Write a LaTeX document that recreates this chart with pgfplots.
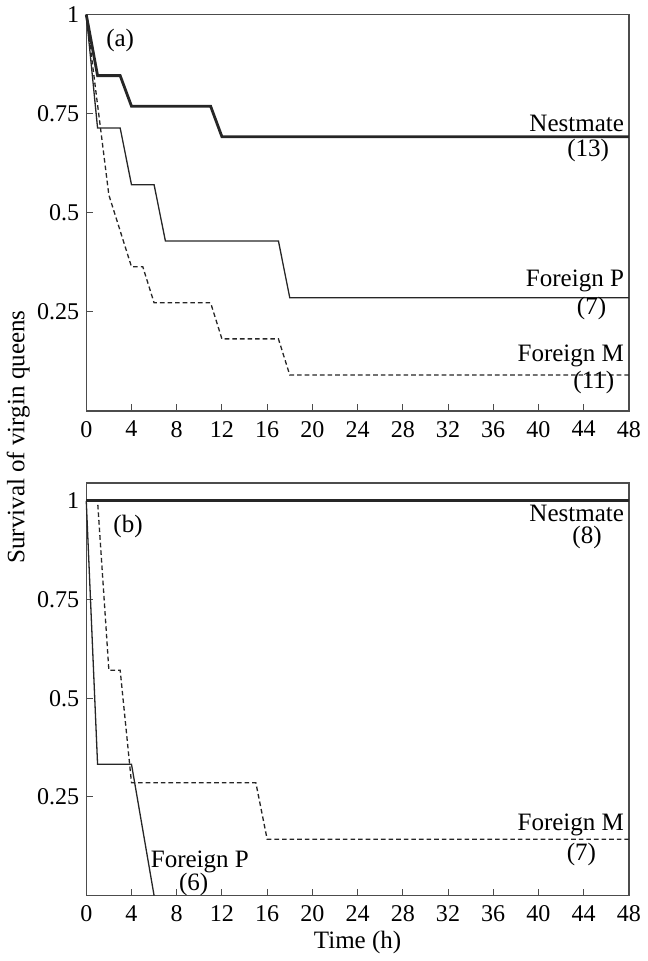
\documentclass[border=0pt]{standalone}
\usepackage{fontspec}
\setmainfont{Liberation Serif}
\usepackage{pgfplots}
\pgfplotsset{compat=1.18}

\newcommand{\labfont}{\fontsize{12.5}{14}\selectfont}
\tikzset{lab/.style={font=\labfont}}

\pgfplotsset{
  surv/.style={
    scale only axis,
    width=271pt,
    xmin=0, xmax=48,
    xtick={0,4,...,48},
    ytick={0.25,0.5,0.75,1},
    yticklabels={0.25,0.5,0.75,1},
    tick align=inside,
    tick pos=left,
    major tick length=3.5pt,
    axis line style={draw=black!70, line width=0.7pt},
    tick style={draw=black!70, line width=0.5pt},
    /pgf/number format/assume math mode=true,
    tick label style={font=\fontsize{12}{14}\selectfont},
    x tick label style={yshift=-1.5pt},
    label style={font=\labfont},
    clip=false,
  },
  nest/.style={draw=black!85, line width=1.4pt, mark=none},
  forp/.style={draw=black!85, line width=0.65pt, mark=none},
  form/.style={draw=black!85, line width=0.65pt, dash pattern=on 2.3pt off 1.5pt, mark=none},
}

\begin{document}
\begin{tikzpicture}
% (a) top panel
\begin{axis}[surv, at={(0,242pt)}, anchor=south west, height=198pt, ymin=0, ymax=1]
\addplot[nest] coordinates {
  (0,1) (1,0.846) (3,0.846) (4,0.769) (11,0.769) (12,0.692) (48,0.692)
};
\addplot[forp] coordinates {
  (0,1) (1,0.714) (3,0.714) (4,0.571) (6,0.571) (7,0.429) (17,0.429) (18,0.286) (48,0.286)
};
\addplot[form] coordinates {
  (0,1) (2,0.545) (4,0.364) (5,0.364) (6,0.273) (11,0.273) (12,0.182) (17,0.182) (18,0.091) (48,0.091)
};
\node[lab] at (axis cs:3.0,0.935) {(a)};
\node[lab, anchor=base east, inner sep=0pt] at (axis cs:47.6,0.705) {Nestmate};
\node[lab] at (axis cs:44.4,0.657) {(13)};
\node[lab, anchor=base east, inner sep=0pt] at (axis cs:47.6,0.315) {Foreign P};
\node[lab] at (axis cs:44.7,0.259) {(7)};
\node[lab, anchor=base east, inner sep=0pt] at (axis cs:47.6,0.126) {Foreign M};
\node[lab] at (axis cs:44.9,0.072) {(11)};
\end{axis}

% (b) bottom panel
\begin{axis}[surv, at={(0,0)}, anchor=south west, height=206pt, ymin=0, ymax=1.045,
  xlabel={Time (h)}, xlabel style={yshift=2pt}]
\addplot[nest] coordinates {
  (0,1) (48,1)
};
\addplot[forp] coordinates {
  (0,1) (1,0.333) (4,0.333) (6,0)
};
\addplot[form] coordinates {
  (0,1) (1,1) (2,0.571) (3,0.571) (4,0.286) (15,0.286) (16,0.143) (48,0.143)
};
\node[lab] at (axis cs:3.7,0.935) {(b)};
\node[lab, anchor=base east, inner sep=0pt] at (axis cs:47.6,0.949) {Nestmate};
\node[lab] at (axis cs:44.3,0.908) {(8)};
\node[lab, anchor=base east, inner sep=0pt] at (axis cs:47.6,0.165) {Foreign M};
\node[lab] at (axis cs:43.8,0.104) {(7)};
\node[lab, anchor=base, inner sep=0pt] at (axis cs:10.05,0.071) {Foreign P};
\node[lab] at (axis cs:9.5,0.028) {(6)};
\end{axis}

\node[lab, rotate=90] at (-34pt,229pt) {Survival of virgin queens};
\end{tikzpicture}
\end{document}
